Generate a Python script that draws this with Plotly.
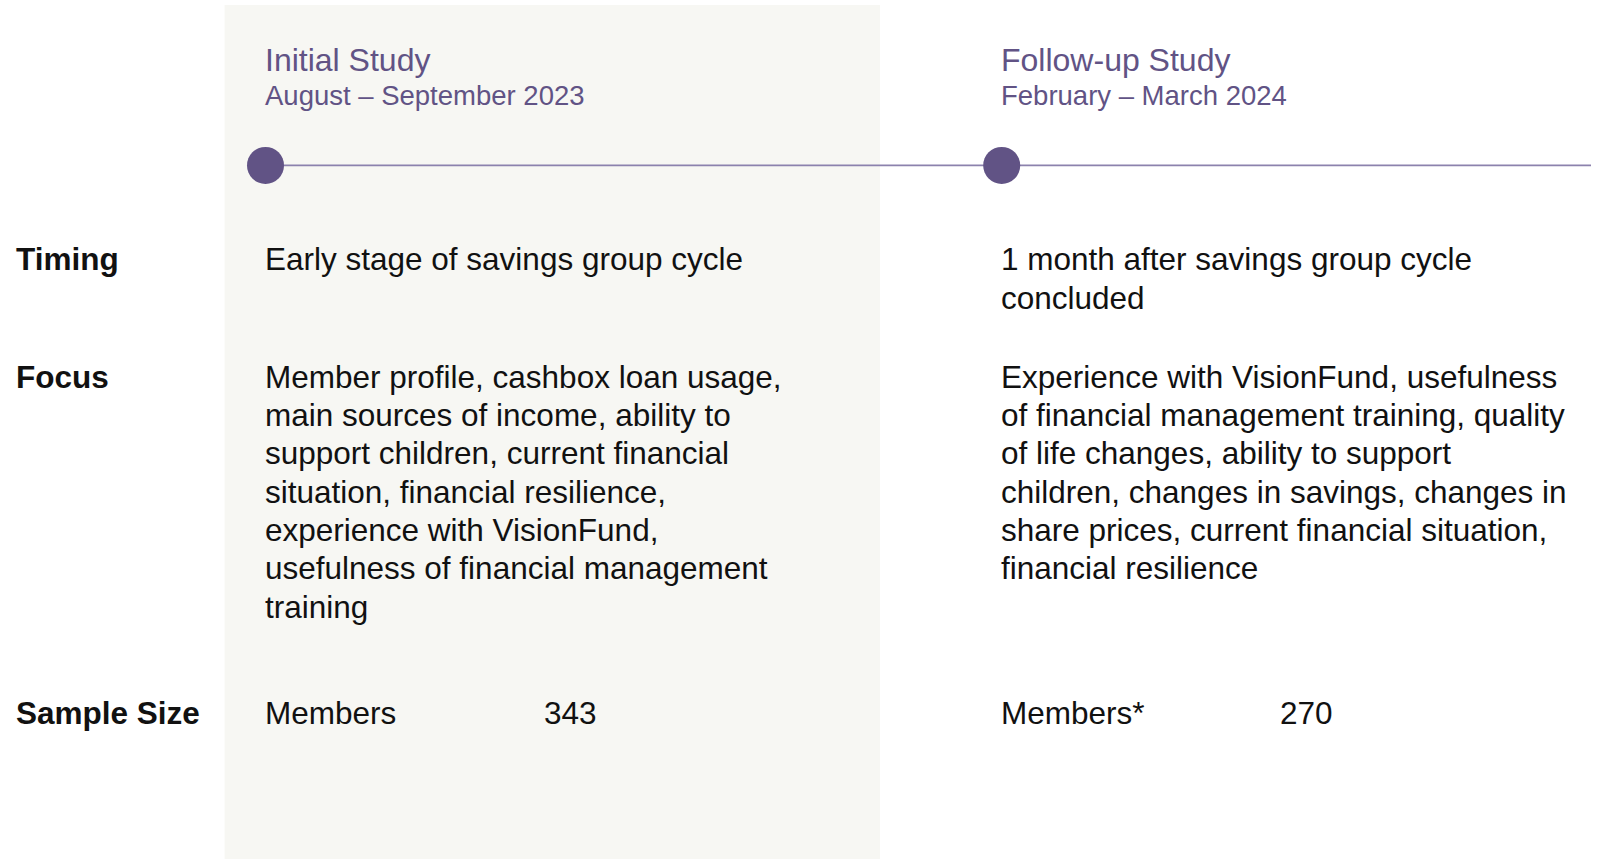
import plotly.graph_objects as go

# ---- data ----
studies = ["Initial Study", "Follow-up Study"]
periods = ["August – September 2023", "February – March 2024"]
row_labels = ["Timing", "Focus", "Sample Size"]
timing = [
    ["Early stage of savings group cycle"],
    ["1 month after savings group cycle", "concluded"],
]
focus = [
    ["Member profile, cashbox loan usage,",
     "main sources of income, ability to",
     "support children, current financial",
     "situation, financial resilience,",
     "experience with VisionFund,",
     "usefulness of financial management",
     "training"],
    ["Experience with VisionFund, usefulness",
     "of financial management training, quality",
     "of life changes, ability to support",
     "children, changes in savings, changes in",
     "share prices, current financial situation,",
     "financial resilience"],
]
sample_labels = ["Members", "Members*"]
sample_sizes = [343, 270]

# ---- layout constants ----
W, H = 1601, 859
FONT = "Liberation Sans, Arial, sans-serif"
PURPLE = "#615385"
LINE_PURPLE = "#8c82ad"
TEXT = "#111111"
PANEL = "#f7f7f3"
col_x = [265.5, 1001.7]
value_x = [545.3, 1280.5]
label_x = 16.3
title_y, period_y, timeline_y = 59.5, 95.5, 165.4
timing_y, focus_y, sample_y = 259.4, 376.8, 712.7
line_gap = 38.3
body_size = 31.5

fig = go.Figure()

# background panel for the initial study
fig.add_shape(type="rect", xref="x", yref="y", x0=224.6, x1=880, y0=5, y1=H,
              fillcolor=PANEL, line=dict(width=0), layer="below")

# timeline
fig.add_trace(go.Scatter(x=[col_x[0], 1591], y=[timeline_y, timeline_y], mode="lines",
                         line=dict(color=LINE_PURPLE, width=1.6), hoverinfo="skip",
                         showlegend=False))
fig.add_trace(go.Scatter(x=col_x, y=[timeline_y] * len(col_x), mode="markers",
                         marker=dict(size=37, color=PURPLE, line=dict(width=0)),
                         hoverinfo="skip", showlegend=False))

ann = []
def txt(x, y, s, size=body_size, color=TEXT, weight="normal", xshift=-3):
    ann.append(dict(x=x, y=y, xref="x", yref="y", text=s, showarrow=False,
                    xanchor="left", yanchor="middle", align="left", xshift=xshift,
                    font=dict(family=FONT, size=size, color=color, weight=weight)))

for i, c in enumerate(col_x):
    txt(c, title_y, studies[i], size=32, color=PURPLE)
    txt(c, period_y, periods[i], size=27.5, color=PURPLE)
    for k, s in enumerate(timing[i]):
        txt(c, timing_y + k * line_gap, s)
    for k, s in enumerate(focus[i]):
        txt(c, focus_y + k * line_gap, s)
    txt(c, sample_y, sample_labels[i])
    txt(value_x[i], sample_y, str(sample_sizes[i]))

for lab, y in zip(row_labels, [timing_y, focus_y, sample_y]):
    txt(label_x, y, lab, weight="bold", xshift=-2.5)

fig.update_layout(
    width=W, height=H, margin=dict(l=0, r=0, t=0, b=0),
    paper_bgcolor="white", plot_bgcolor="white",
    xaxis=dict(range=[0, W], visible=False, fixedrange=True),
    yaxis=dict(range=[H, 0], visible=False, fixedrange=True),
    annotations=ann, showlegend=False,
)
fig.write_html("out.html", config={"displayModeBar": False},
               post_script="document.body.style.margin='0';document.body.style.overflow='hidden';")
